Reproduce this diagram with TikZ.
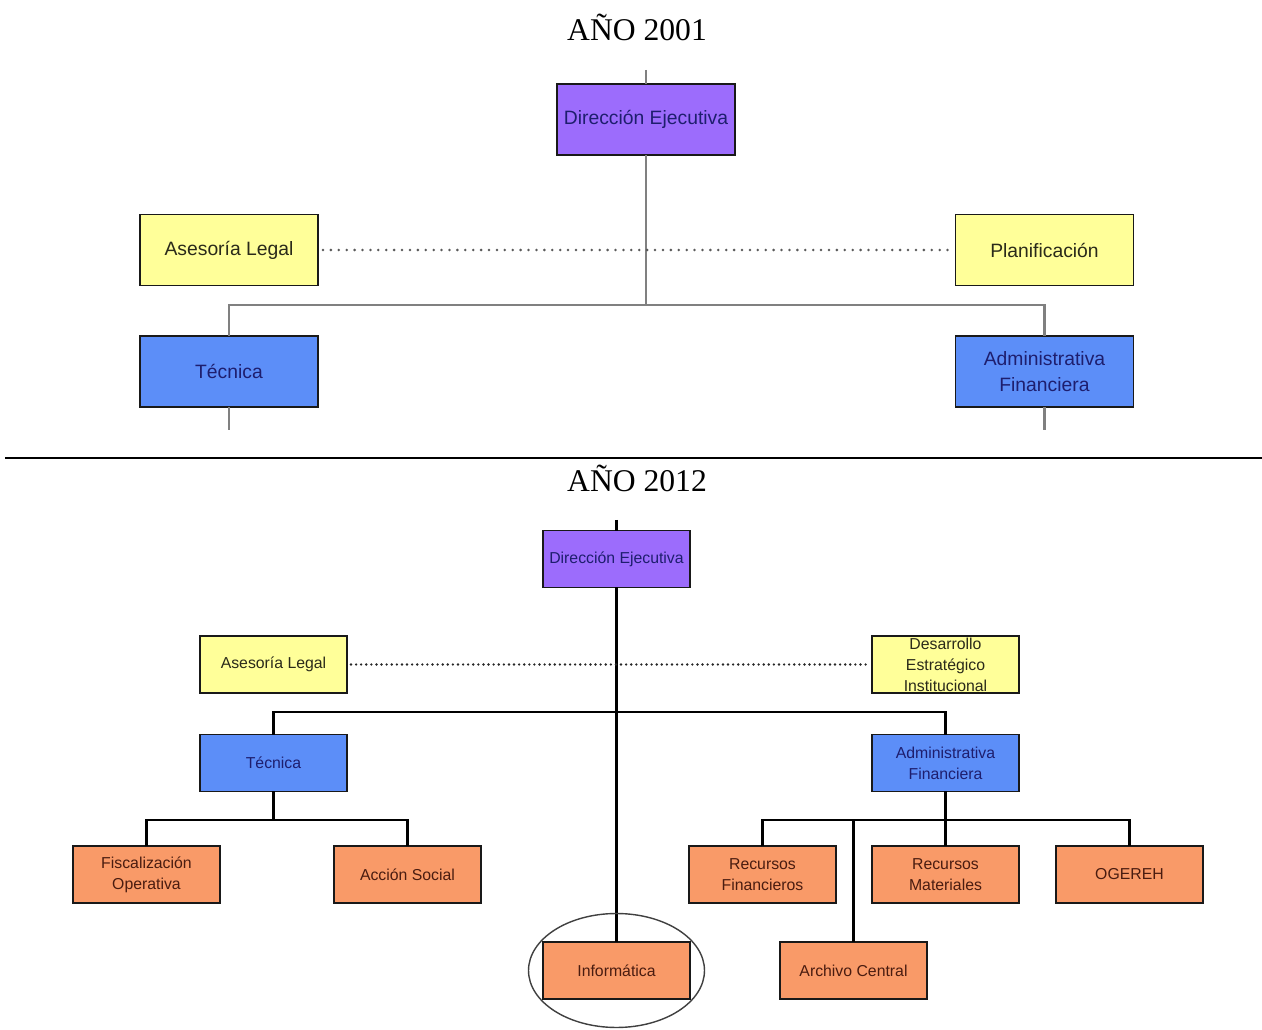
\documentclass[tikz,border=0pt]{standalone}
\usepackage{fontspec}
\setmainfont{Liberation Serif}
\newfontfamily\orgfont{Liberation Sans}
\usetikzlibrary{positioning}

\definecolor{dirfill}{HTML}{9C6CFC}
\definecolor{asefill}{HTML}{FFFF99}
\definecolor{areafill}{HTML}{5C8EF8}
\definecolor{unitfill}{HTML}{F99A68}
\definecolor{navytext}{HTML}{1E1E6E}
\definecolor{darktext}{HTML}{2A2A1A}
\definecolor{browntext}{HTML}{4A1C10}
\definecolor{oldline}{HTML}{808080}

\tikzset{
  orgbox/.style={draw=black!90, line width=0.9pt, inner sep=0pt, outer sep=0pt, align=center, font=\orgfont},
  bigbox/.style={orgbox, minimum width=3.56cm, minimum height=1.42cm, font=\orgfont\fontsize{11}{14.7}\selectfont},
  smallbox/.style={orgbox, minimum width=2.94cm, minimum height=1.14cm, font=\orgfont\fontsize{9}{11.9}\selectfont},
  dirbox/.style={fill=dirfill, text=navytext},
  asebox/.style={fill=asefill, text=darktext},
  areabox/.style={fill=areafill, text=navytext},
  unitbox/.style={fill=unitfill, text=browntext},
  oldlink/.style={draw=oldline, line width=1.2pt},
  newlink/.style={draw=black, line width=1.4pt},
  oldstaff/.style={draw=oldline!70!black, line width=1.6pt, line cap=round, dash pattern=on 0pt off 4.5pt},
  newstaff/.style={draw=black!85, line width=1.5pt, line cap=round, dash pattern=on 0pt off 2.9pt},
  yeartitle/.style={font=\fontsize{18}{20}\selectfont, inner sep=0pt}
}

\begin{document}
\begin{tikzpicture}[x=0.02cm, y=-0.02cm]
  \useasboundingbox[fill=white] (0,0) rectangle (1262,1030);

  % ---------- 2001 ----------
  \node[yeartitle] (t1) at (637,27) {AÑO 2001};

  \node[bigbox, dirbox]  (dir1) at (646,119.5)  {Dirección Ejecutiva};
  \node[bigbox, asebox]  (al1)  at (229,250)    {Asesoría Legal};
  \node[bigbox, asebox]  (pl1)  at (1044.5,250) {Planificación};
  \node[bigbox, areabox] (tec1) at (229,371.5)  {Técnica};
  \node[bigbox, areabox] (adm1) at (1044.5,371.5) {Administrativa\\Financiera};

  \coordinate (top1) at (646,70);
  \coordinate (bus1) at (646,305);
  \coordinate (tecend1) at (229,430);
  \coordinate (admend1) at (1044.5,430);

  \draw[oldlink] (top1) -- (dir1.north);
  \draw[oldlink] (dir1.south) -- (bus1);
  \draw[oldlink] (tec1.north) |- (bus1) -| (adm1.north);
  \draw[oldlink] (tec1.south) -- (tecend1);
  \draw[oldlink] (adm1.south) -- (admend1);
  \draw[oldstaff] (al1.east) ++(5,0) -- ([xshift=-2]pl1.west);

  % ---------- separator ----------
  \coordinate (sepL) at (5,458);
  \coordinate (sepR) at (1262,458);
  \draw[line width=1.3pt] (sepL) -- (sepR);

  % ---------- 2012 ----------
  \node[yeartitle] (t2) at (637,478) {AÑO 2012};

  \node[smallbox, dirbox]  (dir2) at (616.5,559)   {Dirección Ejecutiva};
  \node[smallbox, asebox]  (al2)  at (273.5,664.5) {Asesoría Legal};
  \node[smallbox, asebox]  (des2) at (945.5,664.5) {Desarrollo\\Estratégico\\Institucional};
  \node[smallbox, areabox] (tec2) at (273.5,763)   {Técnica};
  \node[smallbox, areabox] (adm2) at (945.5,763)   {Administrativa\\Financiera};
  \node[smallbox, unitbox] (fis2) at (146.5,874.5) {Fiscalización\\Operativa};
  \node[smallbox, unitbox] (acc2) at (407.5,874.5) {Acción Social};
  \node[smallbox, unitbox] (rf2)  at (762.5,874.5) {Recursos\\Financieros};
  \node[smallbox, unitbox] (rm2)  at (945.5,874.5) {Recursos\\Materiales};
  \node[smallbox, unitbox] (og2)  at (1129.5,874.5) {OGEREH};
  \node[smallbox, unitbox] (inf2) at (616.5,970.5) {Informática};
  \node[smallbox, unitbox] (arc2) at (853.5,970.5) {Archivo Central};

  \coordinate (top2) at (616.5,520);
  \coordinate (bus2) at (616.5,712);
  \coordinate (tecbus) at (273.5,820);
  \coordinate (admbus) at (945.5,820);
  \coordinate (arcbus) at (853.5,820);

  \draw[newlink] (top2) -- (dir2.north);
  \draw[newlink] (dir2.south) -- (inf2.north);
  \draw[newlink] (tec2.north) |- (bus2) -| (adm2.north);
  \draw[newlink] (tec2.south) -- (tecbus);
  \draw[newlink] (fis2.north) |- (tecbus) -| (acc2.north);
  \draw[newlink] (adm2.south) -- (admbus);
  \draw[newlink] (rf2.north) |- (admbus) -| (og2.north);
  \draw[newlink] (admbus) -- (rm2.north);
  \draw[newlink] (arcbus) -- (arc2.north);
  \draw[newstaff] (al2.east) ++(4,0) -- ([xshift=-2]des2.west);

  % highlight around Informática
  \draw[black!75, line width=0.8pt] (inf2.center) ellipse [x radius=1.76cm, y radius=1.14cm];
\end{tikzpicture}
\end{document}
